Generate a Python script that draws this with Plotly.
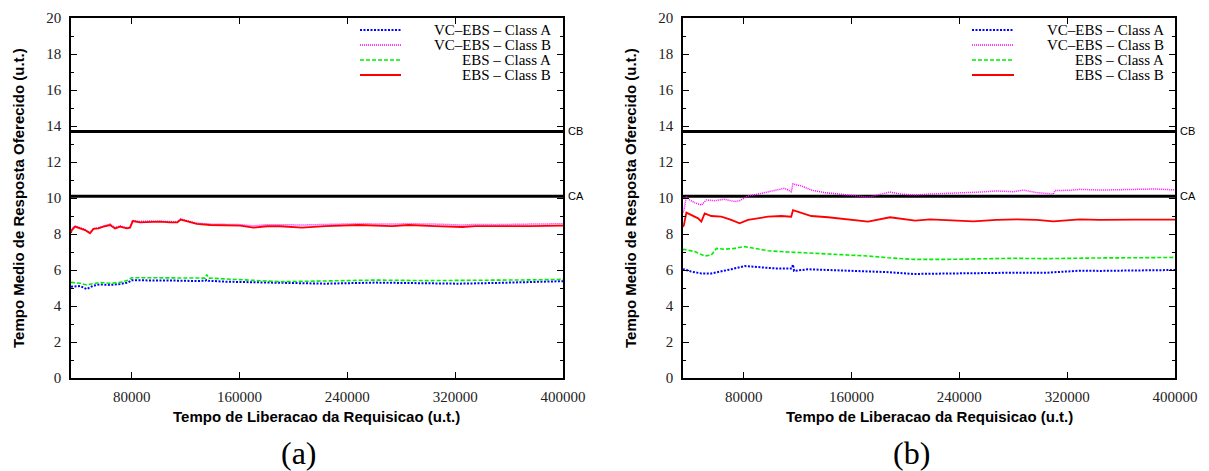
import plotly.graph_objects as go

W, H = 1209, 471

# ---------------- data ----------------
X_MIN, X_MAX = 35000, 400000
CA, CB = 10.1, 13.7
x_ticks = [80000, 160000, 240000, 320000, 400000]
x_tick_text = ["80000", "160000", "240000", "320000", "400000"]
series_names = ["VC\u2013EBS \u2013 Class A", "VC\u2013EBS \u2013 Class B",
                "EBS \u2013 Class A", "EBS \u2013 Class B"]

# panel (a)
a_x_classB = [35000, 35500, 38000, 41700, 45400, 49100, 51600, 55300, 59000, 64000,
              67700, 71400, 76400, 78800, 80800, 86200, 93700, 101100, 108500, 113900,
              116400, 122100, 128300, 138200, 150600, 160500, 170400, 180300, 190200, 206300,
              223600, 248300, 273100, 285500, 305300, 325100, 335000, 349800, 375000, 400000]
a_ebs_B = [8.05, 8.2, 8.41, 8.31, 8.22, 8.04, 8.28, 8.31, 8.41, 8.5,
           8.31, 8.41, 8.31, 8.35, 8.72, 8.65, 8.69, 8.69, 8.65, 8.65,
           8.8, 8.69, 8.56, 8.5, 8.46, 8.46, 8.35, 8.43, 8.43, 8.35,
           8.44, 8.5, 8.44, 8.5, 8.44, 8.39, 8.44, 8.43, 8.44, 8.46]
a_vc_B = [8.1, 8.25, 8.45, 8.35, 8.25, 8.08, 8.3, 8.35, 8.45, 8.55,
          8.35, 8.45, 8.35, 8.38, 8.75, 8.7, 8.72, 8.72, 8.7, 8.68,
          8.83, 8.72, 8.6, 8.55, 8.52, 8.52, 8.45, 8.52, 8.52, 8.5,
          8.53, 8.57, 8.55, 8.57, 8.55, 8.5, 8.53, 8.52, 8.55, 8.57]
a_x_classA = [35000, 41700, 46600, 51600, 56500, 64000, 71400, 77600, 80000, 91200,
              101100, 113400, 125800, 134500, 135700, 137000, 150600, 165400, 180300, 190200,
              223600, 260700, 297800, 322600, 349800, 375000, 400000]
a_ebs_A = [5.31, 5.26, 5.17, 5.26, 5.31, 5.26, 5.31, 5.44, 5.57, 5.57,
           5.57, 5.54, 5.54, 5.55, 5.75, 5.55, 5.5, 5.44, 5.39, 5.35,
           5.39, 5.44, 5.41, 5.41, 5.43, 5.45, 5.48]
a_vc_A = [5.07, 5.11, 4.94, 5.13, 5.2, 5.17, 5.22, 5.31, 5.43, 5.43,
          5.44, 5.41, 5.39, 5.4, 5.45, 5.4, 5.35, 5.33, 5.31, 5.28,
          5.24, 5.3, 5.26, 5.24, 5.28, 5.32, 5.38]

# panel (b)
b_x_vcB = [35000, 35700, 37500, 40000, 43700, 48600, 52300, 58500, 65900, 73300,
           77000, 83200, 90600, 98000, 105400, 110400, 115300, 116600, 122800, 130200,
           140100, 152500, 164800, 172300, 179700, 188600, 196000, 207200, 218300, 235600,
           255300, 267700, 280100, 287500, 297400, 309700, 311000, 324600, 329500, 344300,
           370000, 385000, 400000]
b_vc_B = [9.2, 9.33, 10.07, 9.89, 9.74, 9.61, 9.89, 9.85, 9.93, 9.8,
          9.85, 10.11, 10.22, 10.35, 10.44, 10.54, 10.35, 10.78, 10.67, 10.44,
          10.3, 10.22, 10.11, 10.04, 10.17, 10.33, 10.22, 10.17, 10.22, 10.26,
          10.33, 10.39, 10.35, 10.44, 10.3, 10.22, 10.41, 10.44, 10.48, 10.44,
          10.46, 10.5, 10.45]
b_x_ebsB = [35000, 35700, 37500, 41200, 46200, 48600, 51100, 56000, 63400, 70800,
            77000, 83200, 90600, 98000, 107900, 115300, 116600, 122800, 130200, 142600,
            157400, 172300, 188600, 196000, 207200, 218300, 235600, 250400, 267700, 282600,
            297400, 309700, 329500, 344300, 370000, 400000]
b_ebs_B = [8.4, 8.5, 9.19, 9.06, 8.87, 8.69, 9.15, 9.0, 8.96, 8.78,
           8.59, 8.78, 8.87, 8.96, 9.0, 8.96, 9.33, 9.19, 9.0, 8.93,
           8.81, 8.69, 8.93, 8.87, 8.74, 8.81, 8.74, 8.7, 8.78, 8.81,
           8.78, 8.7, 8.81, 8.78, 8.8, 8.8]
b_x_ebsA = [35000, 35700, 43700, 51100, 56000, 59800, 65900, 73300, 80700, 88100,
            98000, 112800, 127700, 142600, 157400, 172300, 187100, 205900, 230600, 255300,
            280100, 304800, 329500, 344300, 370000, 400000]
b_ebs_A = [7.1, 7.15, 7.02, 6.78, 6.83, 7.2, 7.15, 7.2, 7.3, 7.2,
           7.07, 7.0, 6.96, 6.89, 6.83, 6.78, 6.68, 6.59, 6.59, 6.63,
           6.65, 6.63, 6.67, 6.67, 6.68, 6.7]
b_x_vcA = [35000, 35700, 41200, 48600, 56000, 63400, 70800, 80700, 90600, 103000,
           115800, 116600, 117400, 127700, 142600, 157400, 172300, 187100, 205900, 230600,
           255300, 280100, 304800, 329500, 344300, 370000, 400000]
b_vc_A = [6.0, 6.04, 5.91, 5.81, 5.81, 5.91, 6.04, 6.22, 6.15, 6.09,
          6.09, 6.3, 5.95, 6.04, 6.0, 5.96, 5.91, 5.88, 5.78, 5.81,
          5.81, 5.85, 5.85, 5.96, 5.95, 5.97, 6.0]

# ---------------- styles ----------------
styles = [
    dict(color="#0000FF", dash="2px,1.5px", width=2),
    dict(color="#FF00FF", dash="1px,1px", width=1.5),
    dict(color="#00EE00", dash="4px,2px", width=1.6),
    dict(color="#FF0000", dash="solid", width=1.8),
]

fig = go.Figure()

def px_x(p):
    return p / W

def px_y(p):
    return 1 - p / H

panels = [
    dict(xa="x", ya="y", dom=[71, 563],
         data=[(a_x_classA, a_vc_A), (a_x_classB, a_vc_B), (a_x_classA, a_ebs_A), (a_x_classB, a_ebs_B)]),
    dict(xa="x2", ya="y2", dom=[683, 1175],
         data=[(b_x_vcA, b_vc_A), (b_x_vcB, b_vc_B), (b_x_ebsA, b_ebs_A), (b_x_ebsB, b_ebs_B)]),
]

for p in panels:
    for lvl in (CB, CA):
        fig.add_trace(go.Scatter(x=[X_MIN, X_MAX], y=[lvl, lvl], mode="lines",
                                 line=dict(color="black", width=3),
                                 xaxis=p["xa"], yaxis=p["ya"], showlegend=False, hoverinfo="skip"))
    for (xs, ys), st, nm in zip(p["data"], styles, series_names):
        fig.add_trace(go.Scatter(x=xs, y=ys, mode="lines", name=nm, line=st,
                                 xaxis=p["xa"], yaxis=p["ya"], showlegend=False))

TOP, BOT = 18, 378
ydom = [px_y(BOT), px_y(TOP)]

axis_common = dict(showline=True, linecolor="black", linewidth=1.5, mirror="ticks",
                   ticks="inside", tickcolor="black", ticklen=6, tickwidth=1,
                   showgrid=False, zeroline=False, automargin=False,
                   tickfont=dict(family="Liberation Serif", size=15, color="#222"))

layout = dict(width=W, height=H, margin=dict(l=0, r=0, t=0, b=0, autoexpand=False),
              paper_bgcolor="white", plot_bgcolor="white", showlegend=False)
for i, p in enumerate(panels):
    sx = "" if i == 0 else "2"
    layout["xaxis" + sx] = dict(axis_common, domain=[px_x(p["dom"][0]), px_x(p["dom"][1])],
                                range=[X_MIN, X_MAX], tickvals=x_ticks, ticktext=x_tick_text,
                                anchor="y" + sx, ticklabelstandoff=4)
    layout["yaxis" + sx] = dict(axis_common, domain=ydom, range=[0, 20], dtick=2,
                                anchor="x" + sx, ticklabelstandoff=5,
                                minor=dict(dtick=1, ticks="inside", ticklen=3, tickcolor="black"))
fig.update_layout(**layout)

ann = []
shapes = []

def txt(x, y, text, font, xanchor="center", **kw):
    d = dict(x=x, y=y, xref="paper", yref="paper", showarrow=False, text=text, font=font,
             xanchor=xanchor, yanchor="middle")
    d.update(kw)
    return d

for i, p in enumerate(panels):
    l, r = p["dom"]
    cx = (l + r) / 2
    sx = "" if i == 0 else "2"
    tfont = dict(family="Liberation Sans", size=15, color="black")
    ann.append(txt(px_x(cx), px_y(416), "<b>Tempo de Liberacao da Requisicao (u.t.)</b>", tfont))
    ann.append(txt(px_x(l - 53), px_y((TOP + BOT) / 2),
                   "<b>Tempo Medio de Resposta Oferecido (u.t.)</b>", tfont, textangle=-90))
    for lvl, lab in ((CB, "CB"), (CA, "CA")):
        ann.append(dict(x=px_x(r + 3), y=lvl, xref="paper", yref="y" + sx, showarrow=False,
                        xanchor="left", yanchor="middle", text=lab,
                        font=dict(family="Liberation Sans", size=11, color="black")))
    s0, s1, tr = (360, 401, 553) if i == 0 else (972, 1014, 1166)
    for k, (nm, st) in enumerate(zip(series_names, styles)):
        ry = 30 + 15 * k
        shapes.append(dict(type="line", xref="paper", yref="paper",
                           x0=px_x(s0), x1=px_x(s1), y0=px_y(ry), y1=px_y(ry),
                           line=dict(color=st["color"], dash=st["dash"], width=st["width"])))
        ann.append(txt(px_x(tr), px_y(ry), nm,
                       dict(family="Liberation Serif", size=15, color="black"), xanchor="right"))

cfont = dict(family="Liberation Serif", size=32, color="black")
ann.append(txt(px_x(299), px_y(453), "(a)", cfont))
ann.append(txt(px_x(911), px_y(453), "(b)", cfont))

fig.update_layout(annotations=ann, shapes=shapes)
fig.write_html("out.html")
